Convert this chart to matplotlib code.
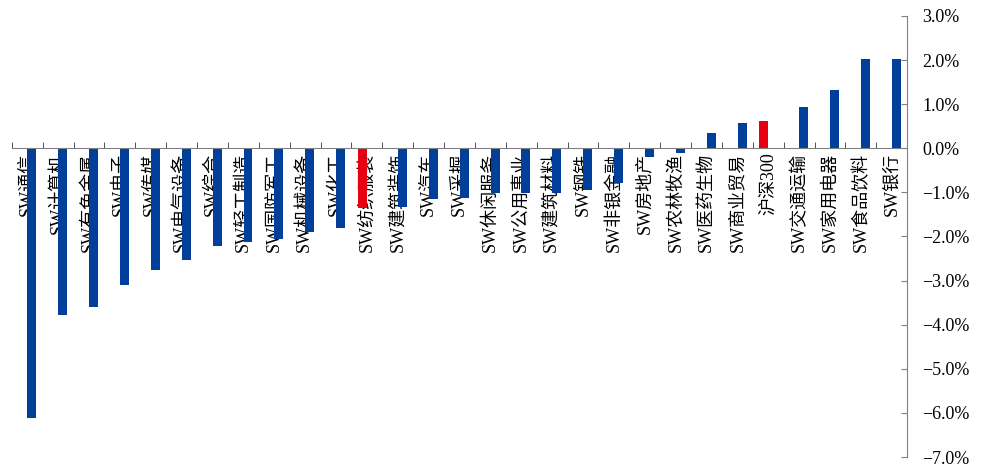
import matplotlib.pyplot as plt
from matplotlib.ticker import FuncFormatter, FixedLocator

categories = [
    "SW通信", "SW计算机", "SW有色金属", "SW电子", "SW传媒", "SW电气设备",
    "SW综合", "SW轻工制造", "SW国防军工", "SW机械设备", "SW化工", "SW纺织服装",
    "SW建筑装饰", "SW汽车", "SW采掘", "SW休闲服务", "SW公用事业", "SW建筑材料",
    "SW钢铁", "SW非银金融", "SW房地产", "SW农林牧渔", "SW医药生物", "SW商业贸易",
    "沪深300", "SW交通运输", "SW家用电器", "SW食品饮料", "SW银行",
]
# weekly change (%), industry series (blue)
industry = [
    -6.12, -3.78, -3.59, -3.11, -2.76, -2.53,
    -2.22, -2.12, -2.05, -1.89, -1.80, 0.0,
    -1.34, -1.15, -1.13, -1.02, -1.02, -1.02,
    -0.95, -0.79, -0.19, -0.11, 0.35, 0.58,
    0.0, 0.94, 1.32, 2.02, 2.03,
]
# highlighted series (red)
highlight = [
    0, 0, 0, 0, 0, 0, 0, 0, 0, 0, 0, -1.36,
    0, 0, 0, 0, 0, 0, 0, 0, 0, 0, 0, 0,
    0.62, 0, 0, 0, 0,
]

blue = "#00409A"
red = "#E60012"
grey = "#808080"

dpi = 100
fig = plt.figure(figsize=(984 / dpi, 468 / dpi), dpi=dpi)
ax = fig.add_axes([0.012, 0.0235, 0.91, 0.9425])

x = list(range(len(categories)))
w = 0.29
ax.bar([i - 0.15 for i in x], highlight, width=w, color=red, zorder=3)
ax.bar([i + 0.15 for i in x], industry, width=w, color=blue, zorder=3)

ax.set_xlim(-0.5, len(categories) - 0.5)
ax.set_ylim(-7, 3)

# y axis on the right
ax.yaxis.tick_right()
ax.set_yticks(range(-7, 4))
ax.yaxis.set_major_formatter(
    FuncFormatter(lambda v, p: f"{v:.1f}%".replace("-", "\u2212"))
)
ax.tick_params(axis="y", direction="in", length=4, color=grey, pad=11,
               labelsize=13)
for lab in ax.get_yticklabels():
    lab.set_family("Liberation Serif")

# category axis sits on zero
ax.spines["left"].set_visible(False)
ax.spines["top"].set_visible(False)
ax.spines["right"].set_color(grey)
ax.spines["bottom"].set_color(grey)
ax.spines["bottom"].set_position(("data", 0))
ax.spines["bottom"].set_zorder(4)

ax.set_xticks(x)
ax.set_xticklabels(categories, rotation=90, fontsize=13,
                   family=["Liberation Serif", "Noto Sans CJK SC"])
ax.tick_params(axis="x", which="major", length=0, pad=3)
ax.xaxis.set_minor_locator(FixedLocator([i - 0.5 for i in range(len(categories) + 1)]))
ax.tick_params(axis="x", which="minor", direction="in", length=4, color="#333333")

plt.savefig("out.png", dpi=dpi)
